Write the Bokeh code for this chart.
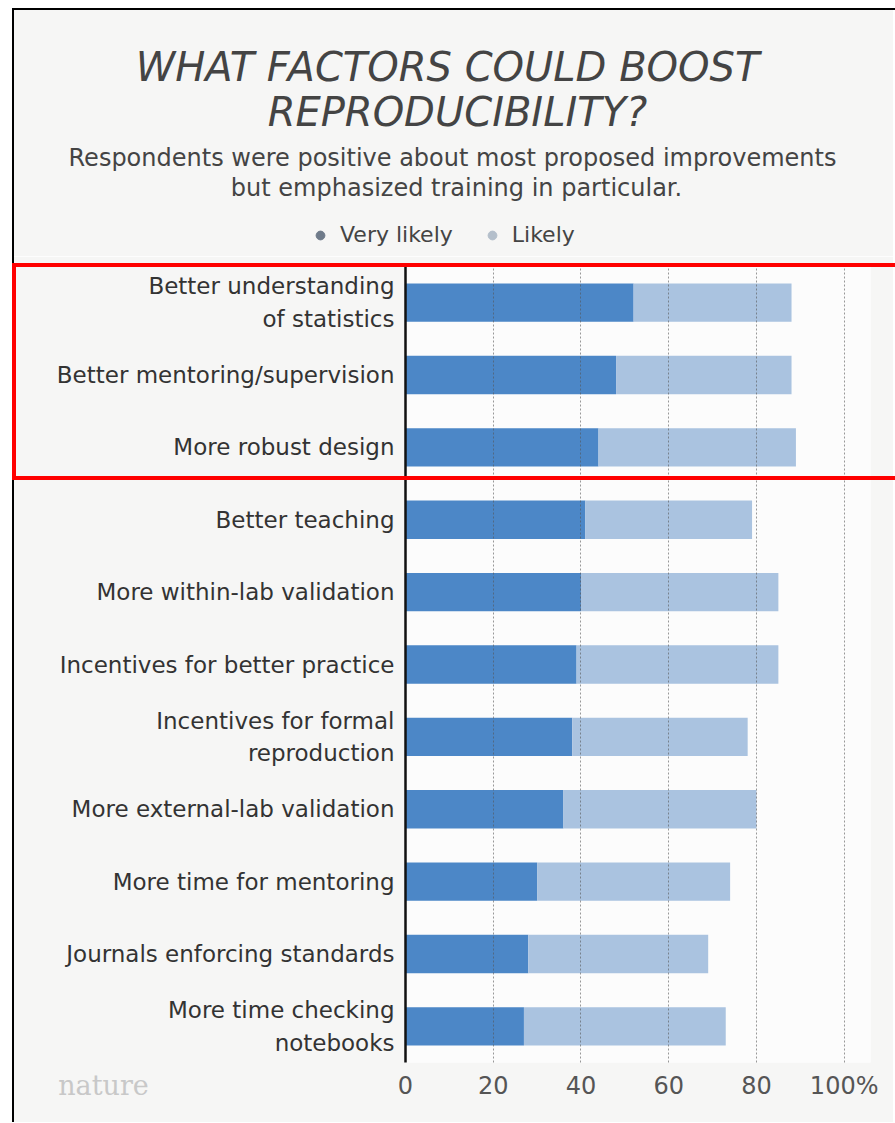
from bokeh.plotting import figure
from bokeh.layouts import column
from bokeh.models import (FactorRange, Range1d, FixedTicker, Label, Legend, LegendItem,
                          ColumnDataSource, InlineStyleSheet)
from bokeh.embed import file_html
from bokeh.resources import INLINE

# ---------------- data ----------------
title_lines = ["WHAT FACTORS COULD BOOST", "REPRODUCIBILITY?"]
subtitle_lines = ["Respondents were positive about most proposed improvements",
                  "but emphasized training in particular."]
series_names = ["Very likely", "Likely"]
categories = [
    "Better understanding\nof statistics",
    "Better mentoring/supervision",
    "More robust design",
    "Better teaching",
    "More within-lab validation",
    "Incentives for better practice",
    "Incentives for formal\nreproduction",
    "More external-lab validation",
    "More time for mentoring",
    "Journals enforcing standards",
    "More time checking\nnotebooks",
]
very_likely = [52, 48, 44, 41, 40, 39, 38, 36, 30, 28, 27]
likely = [36, 40, 45, 38, 45, 46, 40, 44, 44, 41, 46]
x_ticks = [0, 20, 40, 60, 80, 100]
x_tick_labels = ["0", "20", "40", "60", "80", "100%"]
grid_ticks = [20, 40, 60, 80, 100]
source_label = "nature"

# ---------------- styling ----------------
FONT = "DejaVu Sans"
DARK = "#4c87c7"
LIGHT = "#aac3e0"
DOT_DARK = "#6f7b8a"
DOT_LIGHT = "#b4bfcb"
BG = "#f6f6f5"

W = 893
HEAD_H = 256
MAIN_H = 866
FOOT_H = 60


def bare_figure(width, height):
    f = figure(width=width, height=height,
               x_range=Range1d(0, width), y_range=Range1d(height, 0),
               x_axis_type=None, y_axis_type=None,
               output_backend="svg", toolbar_location=None,
               min_border=0, min_border_left=0, min_border_right=0,
               min_border_top=0, min_border_bottom=0)
    f.outline_line_color = None
    return f


def add_label(fig, text, x, y, size, color, style="normal", font=FONT):
    fig.add_layout(Label(text=text, x=x, y=y,
                         text_align="center", text_baseline="middle",
                         text_font=font, text_font_size=size,
                         text_font_style=style, text_color=color))


# ---------------- header: title, subtitle, legend ----------------
head = bare_figure(W, HEAD_H)
head.border_fill_color = BG
head.background_fill_color = BG

add_label(head, title_lines[0], 447, 66, "40px", "#444444", "italic")
add_label(head, title_lines[1], 457, 111, "40px", "#444444", "italic")
add_label(head, subtitle_lines[0], 452, 157, "24px", "#444444")
add_label(head, subtitle_lines[1], 456, 187, "24px", "#444444")

# legend-only renderers (their single point lies outside the visible header range)
r1 = head.scatter(x=[-500], y=[-500], marker="circle", size=8, color=DOT_DARK)
r2 = head.scatter(x=[-500], y=[-500], marker="circle", size=8, color=DOT_LIGHT)
legend = Legend(items=[LegendItem(label=series_names[0], renderers=[r1]),
                       LegendItem(label=series_names[1], renderers=[r2])],
                orientation="horizontal", location=(309, 9),
                label_text_font=FONT, label_text_font_size="22px",
                label_text_color="#444444",
                glyph_width=22, glyph_height=22, label_standoff=9, spacing=28,
                padding=0, margin=0, border_line_color=None,
                background_fill_alpha=0)
head.add_layout(legend, "center")

head_css = InlineStyleSheet(css="""
:host::before {
  content: ""; position: absolute; left: 12px; top: 8px;
  width: 883px; height: 248px; box-sizing: border-box;
  border-left: 2px solid #000; border-top: 2px solid #000;
  pointer-events: none; z-index: 10;
}
:host::after {
  content: ""; position: absolute; left: 0; top: 0;
  width: 895px; height: 256px; box-sizing: border-box;
  border-left: 12px solid #fff; border-top: 8px solid #fff;
  pointer-events: none; z-index: 9;
}
""")
head_col = column(head, styles={"position": "relative"}, stylesheets=[head_css])

# ---------------- main chart ----------------
main = figure(width=W, height=MAIN_H,
              y_range=FactorRange(factors=categories[::-1]),
              x_range=Range1d(0, 106),
              output_backend="svg", toolbar_location=None,
              min_border_left=405, min_border_right=23,
              min_border_top=10, min_border_bottom=60)
main.border_fill_color = BG
main.background_fill_color = "#fcfcfc"
main.outline_line_color = None

src = ColumnDataSource(dict(cat=categories, very=very_likely, likely=likely))
main.hbar_stack(["very", "likely"], y="cat", height=0.53, source=src,
                color=[DARK, LIGHT], line_color=None)

main.xaxis.ticker = FixedTicker(ticks=x_ticks)
main.xaxis.major_label_overrides = {t: l for t, l in zip(x_ticks, x_tick_labels)}
main.xaxis.axis_line_color = None
main.xaxis.major_tick_line_color = None
main.xaxis.major_tick_out = 0
main.xaxis.minor_tick_line_color = None
main.xaxis.major_label_standoff = 9
main.xaxis.major_label_text_font = FONT
main.xaxis.major_label_text_font_size = "24px"
main.xaxis.major_label_text_color = "#555555"

main.yaxis.axis_line_color = "#111111"
main.yaxis.axis_line_width = 2.5
main.yaxis.major_tick_line_color = None
main.yaxis.major_tick_out = 0
main.yaxis.minor_tick_line_color = None
main.yaxis.major_label_standoff = 11
main.yaxis.major_label_text_font = FONT
main.yaxis.major_label_text_font_size = "23px"
main.yaxis.major_label_text_color = "#333333"
main.yaxis.major_label_text_line_height = 1.25

main.ygrid.grid_line_color = None
main.xgrid.ticker = FixedTicker(ticks=grid_ticks)
main.xgrid.grid_line_color = "#555555"
main.xgrid.grid_line_dash = "2 2"
main.xgrid.grid_line_alpha = 0.6
main.xgrid.level = "overlay"

main_css = InlineStyleSheet(css="""
:host::before {
  content: ""; position: absolute; left: 0; top: 0;
  width: 14px; height: 866px; box-sizing: border-box;
  border-left: 12px solid #fff; background: #000;
  pointer-events: none; z-index: 9;
}
:host::after {
  content: ""; position: absolute; left: 12px; top: 7px;
  width: 883px; height: 217px; box-sizing: border-box;
  border: 4px solid #ff0000; border-right: none;
  pointer-events: none; z-index: 10;
}
""")
main_col = column(main, styles={"position": "relative"}, stylesheets=[main_css])

# ---------------- footer: source logo, laid over the chart's bottom band ----------------
foot = bare_figure(390, FOOT_H)
foot.border_fill_alpha = 0
foot.background_fill_alpha = 0
add_label(foot, source_label, 89, 23, "27px", "#c8c8c8", "normal", "DejaVu Serif")
foot_col = column(foot, styles={"position": "absolute", "top": "1062px", "left": "14px"})

open("out.html", "w").write(file_html([head_col, main_col, foot_col], INLINE))
